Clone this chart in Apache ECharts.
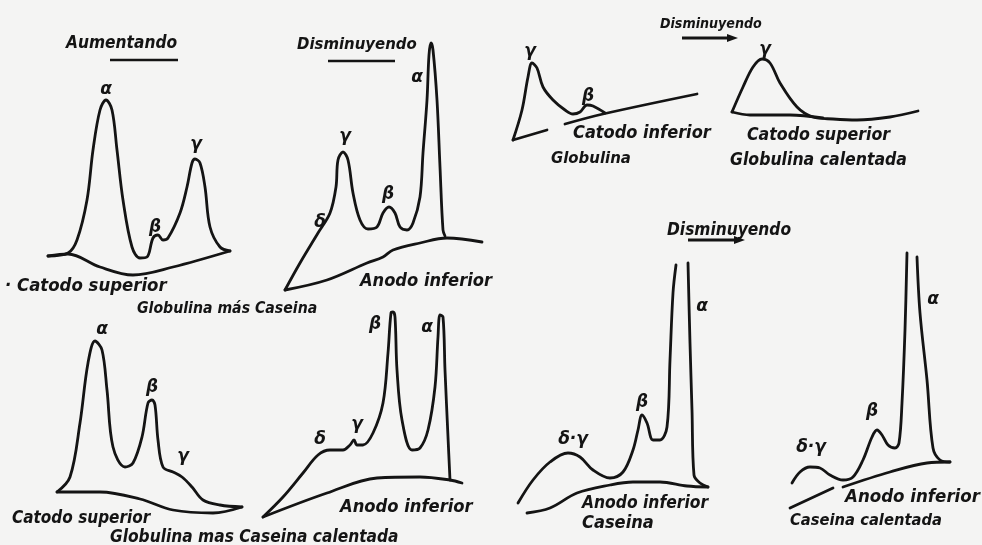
<!DOCTYPE html>
<html><head><meta charset="utf-8">
<script src="https://cdn.jsdelivr.net/npm/echarts@6/dist/echarts.min.js"></script>
<style>html,body{margin:0;padding:0;background:#f4f4f3}#c{width:982px;height:545px}</style>
</head><body><div id="c"></div>
<script>
// ---- data: traces (x = migration, y = height above the panel floor)
const trace1 = [[8,24],[28,27],[37,40],[47,80],[53,130],[60,170],[66,180],[72,170],[77,130],[83,80],[92,33],[100,22],[107,23],[113,42],[118,45],[123,40],[128,42],[140,67],[147,93],[152,117],[155,121],[160,117],[165,93],[170,53],[180,33],[190,29]];
const base1 = [[190,29],[133,13],[93,5],[60,13],[28,26],[8,24]];
const peaks1 = [['α',66,190],['β',115,52],['γ',156,135]];

const trace2 = [[5,10],[20,37],[38,67],[50,87],[56,113],[58,140],[63,148],[68,140],[73,107],[80,80],[88,71],[97,73],[103,87],[109,93],[115,87],[120,73],[127,70],[133,77],[140,103],[143,147],[147,200],[149,245],[151,257],[153,250],[157,200],[160,133],[163,70],[165,64]];
const base2 = [[202,58],[167,62],[140,57],[113,50],[103,43],[87,37],[47,20],[5,10]];
const peaks2 = [['δ',40,77],['γ',65,163],['β',108,105],['α',137,222]];

const trace3 = [[8,10],[17,40],[23,73],[27,87],[32,82],[38,63],[48,50],[60,40],[68,36],[75,38],[82,45],[88,44],[100,37]];
const base3a = [[8,10],[42,20]];
const base3b = [[60,26],[98,36],[192,56]];
const peaks3 = [['γ',25,98],['β',83,53]];

const trace4 = [[7,18],[18,43],[28,63],[37,71],[45,67],[55,47],[72,23],[88,13],[108,11],[132,10],[165,13],[193,19]];
const base4 = [[7,18],[25,15],[65,15],[98,12]];
const peaks4 = [['γ',40,80]];

const trace5 = [[7,28],[20,43],[30,97],[38,157],[45,179],[52,170],[57,130],[63,73],[75,53],[83,57],[92,83],[98,117],[102,120],[105,115],[108,80],[113,53],[123,48],[132,43],[142,33],[153,20],[170,15],[192,13]];
const base5 = [[192,13],[163,7],[123,10],[90,21],[50,28],[7,28]];
const peaks5 = [['α',52,190],['β',102,132],['γ',133,63]];

const trace6 = [[8,8],[28,28],[48,52],[63,70],[75,75],[88,75],[95,80],[99,85],[102,80],[108,80],[118,92],[128,122],[133,172],[136,212],[138,213],[140,208],[142,155],[147,105],[157,75],[165,77],[173,95],[180,138],[183,188],[185,210],[188,208],[190,155],[193,88],[195,45]];
const base6 = [[207,42],[195,45],[165,48],[122,47],[72,32],[8,8]];
const peaks6 = [['δ',65,85],['γ',102,100],['β',120,200],['α',172,197]];

const trace7a = [[8,17],[23,40],[40,58],[58,67],[70,63],[83,50],[100,42],[113,48],[123,70],[128,90],[132,105],[137,97],[143,80],[150,80],[157,93],[160,160],[163,227],[166,255]];
const trace7b = [[178,257],[180,177],[182,110],[184,45],[190,37],[198,33]];
const base7 = [[198,33],[177,34],[150,38],[123,38],[100,35],[67,27],[40,12],[17,7]];
const peaks7 = [['δ·γ',63,80],['β',132,117],['α',192,213]];

const trace8a = [[7,32],[15,43],[25,48],[35,47],[45,40],[58,35],[68,38],[78,55],[87,78],[92,85],[97,80],[103,70],[110,67],[114,72],[117,112],[120,185],[122,262]];
const trace8b = [[132,258],[135,202],[142,135],[148,67],[155,55],[165,53]];
const base8a = [[165,53],[142,52],[105,43],[58,28]];
const base8b = [[48,27],[5,7]];
const peaks8 = [['δ·γ',26,67],['β',87,103],['α',148,215]];

// ---- texts
const captionTexts = ['Aumentando','Disminuyendo','· Catodo superior','Globulina más Caseina','Anodo inferior',
  'Disminuyendo','Catodo inferior','Globulina','Catodo superior','Globulina calentada',
  'Disminuyendo','Catodo superior','Globulina mas Caseina calentada','Anodo inferior','Anodo inferior','Caseina',
  'Anodo inferior','Caseina calentada'];

// ---- layout
const captionBoxes = [[66,44,111],[297,45,120],[5,286,162],[137,309,180],[360,281,132],
  [660,24,102],[573,133,138],[551,159,80],[747,135,143],[730,160,177],
  [667,231,124],[12,519,138],[110,538,288],[340,507,133],[582,504,126],[582,523,72],
  [845,497,135],[790,521,152]];
const panels = [
  {box:[40,80,200,200], lines:[trace1,base1], peaks:peaks1},
  {box:[280,30,210,270], lines:[trace2,base2], peaks:peaks2},
  {box:[505,40,200,110], lines:[trace3,base3a,base3b], peaks:peaks3},
  {box:[725,40,200,90], lines:[trace4,base4], peaks:peaks4},
  {box:[50,320,200,200], lines:[trace5,base5], peaks:peaks5},
  {box:[255,300,215,225], lines:[trace6,base6], peaks:peaks6},
  {box:[510,250,205,270], lines:[trace7a,trace7b,base7], peaks:peaks7},
  {box:[785,240,170,275], lines:[trace8a,trace8b,base8a,base8b], peaks:peaks8}
];
const INK = '#141414';
const FAM = '"DejaVu Sans Condensed","DejaVu Sans",sans-serif';

const ctx = document.createElement('canvas').getContext('2d');
function fitSize(text, target){
  ctx.font = 'italic bold 20px ' + FAM;
  return 20 * target / ctx.measureText(text).width;
}

const grid = [], xAxis = [], yAxis = [], series = [];
panels.forEach((p,i)=>{
  grid.push({left:p.box[0], top:p.box[1], width:p.box[2], height:p.box[3]});
  xAxis.push({type:'value', gridIndex:i, min:0, max:p.box[2], show:false});
  yAxis.push({type:'value', gridIndex:i, min:0, max:p.box[3], show:false});
  p.lines.forEach(d=>series.push({type:'line', xAxisIndex:i, yAxisIndex:i, data:d, smooth:0.35,
    symbol:'none', silent:true, clip:false, animation:false,
    lineStyle:{color:INK, width:2.8, cap:'round', join:'round'}}));
  series.push({type:'scatter', xAxisIndex:i, yAxisIndex:i, symbolSize:1, silent:true, animation:false,
    itemStyle:{color:'rgba(0,0,0,0)', opacity:1},
    data:p.peaks.map(k=>({name:k[0], value:[k[1],k[2]]})),
    label:{show:true, position:'inside', formatter:'{b}', color:INK, opacity:1, textBorderWidth:0,
      fontSize:17, fontStyle:'italic', fontWeight:'bold', fontFamily:'"DejaVu Sans",sans-serif'}});
});

const graphic = captionTexts.map((t,i)=>{
  const b = captionBoxes[i];
  return {type:'text', x:b[0], y:b[1], silent:true,
    style:{text:t, fill:INK, font:'italic bold ' + fitSize(t,b[2]).toFixed(1) + 'px ' + FAM,
      textAlign:'left', textVerticalAlign:'middle'}};
});
// underlines and arrows
[[110,60,178,60],[328,61,395,61]].forEach(s=>graphic.push({type:'line', silent:true,
  shape:{x1:s[0],y1:s[1],x2:s[2],y2:s[3]}, style:{stroke:INK, lineWidth:2.6}}));
[[682,38,738],[688,240,745]].forEach(a=>{
  graphic.push({type:'line', silent:true, shape:{x1:a[0],y1:a[1],x2:a[2]-6,y2:a[1]}, style:{stroke:INK, lineWidth:2.8}});
  graphic.push({type:'polygon', silent:true, shape:{points:[[a[2],a[1]],[a[2]-11,a[1]-4],[a[2]-11,a[1]+4]]}, style:{fill:INK}});
});

const chart = echarts.init(document.getElementById('c'), null, {renderer:'canvas'});
chart.setOption({backgroundColor:'#f4f4f3', animation:false, grid, xAxis, yAxis, series, graphic});
</script>
</body></html>
